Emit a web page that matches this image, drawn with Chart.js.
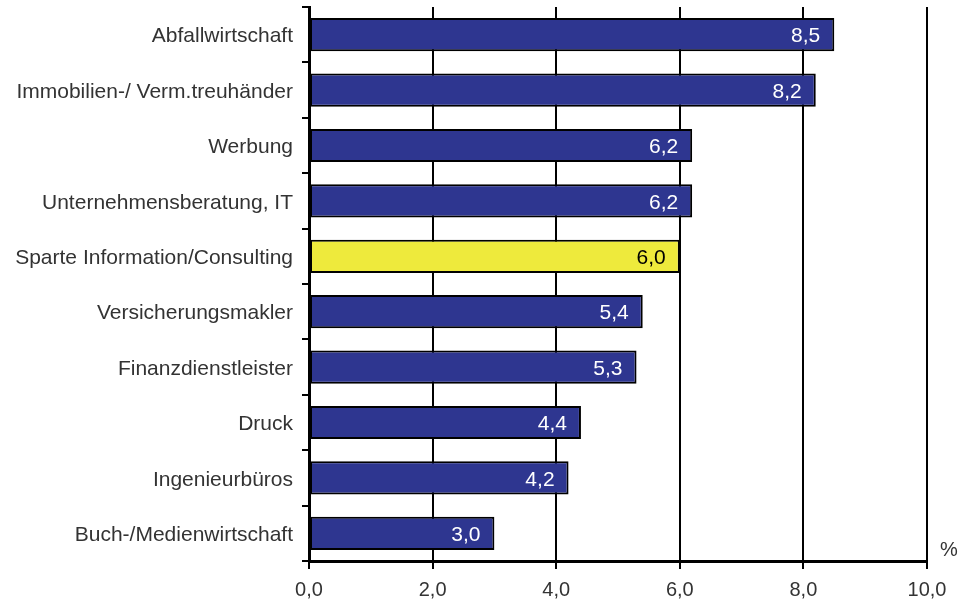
<!DOCTYPE html>
<html>
<head>
<meta charset="utf-8">
<script src="https://cdn.jsdelivr.net/npm/chart.js@4"></script>
<style>
  html, body { margin: 0; padding: 0; background: #fff; }
  #wrap { position: relative; width: 960px; height: 602px; }
</style>
</head>
<body>
<div id="wrap"><canvas id="bar"></canvas></div>
<script>
// Daten
const branchen = [
  'Abfallwirtschaft',
  'Immobilien-/ Verm.treuhänder',
  'Werbung',
  'Unternehmensberatung, IT',
  'Sparte Information/Consulting',
  'Versicherungsmakler',
  'Finanzdienstleister',
  'Druck',
  'Ingenieurbüros',
  'Buch-/Medienwirtschaft'
];
const werte = [8.5, 8.2, 6.2, 6.2, 6.0, 5.4, 5.3, 4.4, 4.2, 3.0];
const xTicks = [0, 2, 4, 6, 8, 10];
const hervorheben = 'Sparte Information/Consulting';

const BLAU = '#2E3690';
const GELB = '#EEEA3C';
const SCHRIFT = '"Liberation Sans", Arial, sans-serif';
const fmt = v => v.toFixed(1).replace('.', ',');

// Werte in die Balken schreiben
const wertLabels = {
  id: 'wertLabels',
  afterDatasetsDraw(chart) {
    const ctx = chart.ctx;
    const meta = chart.getDatasetMeta(0);
    ctx.save();
    ctx.font = '21px ' + SCHRIFT;
    ctx.textAlign = 'right';
    ctx.textBaseline = 'middle';
    meta.data.forEach((bar, i) => {
      ctx.fillStyle = branchen[i] === hervorheben ? '#000' : '#fff';
      ctx.fillText(fmt(werte[i]), bar.x - 14, bar.y + 2);
    });
    ctx.restore();
  }
};

// Prozentzeichen rechts unten
const prozent = {
  id: 'prozent',
  afterDraw(chart) {
    const ctx = chart.ctx;
    ctx.save();
    ctx.font = '20px ' + SCHRIFT;
    ctx.fillStyle = '#333';
    ctx.textAlign = 'left';
    ctx.textBaseline = 'middle';
    ctx.fillText('%', chart.chartArea.right + 13, chart.chartArea.bottom - 11);
    ctx.restore();
  }
};

new Chart(document.getElementById('bar'), {
  type: 'bar',
  data: {
    labels: branchen,
    datasets: [{
      data: werte,
      backgroundColor: branchen.map(b => b === hervorheben ? GELB : BLAU),
      borderColor: '#000',
      borderWidth: 2,
      borderSkipped: false,
      barPercentage: 0.6,
      categoryPercentage: 1.0
    }]
  },
  options: {
    indexAxis: 'y',
    responsive: true,
    maintainAspectRatio: false,
    animation: false,
    layout: { padding: { top: 7, right: 33, left: 0, bottom: 0 } },
    plugins: { legend: { display: false }, tooltip: { enabled: false } },
    scales: {
      x: {
        min: 0, max: 10,
        afterBuildTicks: s => { s.ticks = xTicks.map(v => ({ value: v })); },
        afterFit: s => { s.height = 41; },
        border: { color: '#000', width: 3 },
        grid: { color: '#000', lineWidth: 2, tickLength: 8, drawTicks: true },
        ticks: {
          color: '#333',
          font: { family: SCHRIFT, size: 20 },
          padding: 9,
          maxRotation: 0,
          callback: v => fmt(v)
        }
      },
      y: {
        afterFit: s => { s.width = 309; s.paddingTop = 0; s.paddingBottom = 0; },
        border: { color: '#000', width: 3 },
        grid: { offset: true, drawOnChartArea: false, color: '#000', lineWidth: 2, tickLength: 7 },
        ticks: {
          color: '#333',
          font: { family: SCHRIFT, size: 21 },
          padding: 9,
          labelOffset: 2
        }
      }
    }
  },
  plugins: [wertLabels, prozent]
});
</script>
</body>
</html>
